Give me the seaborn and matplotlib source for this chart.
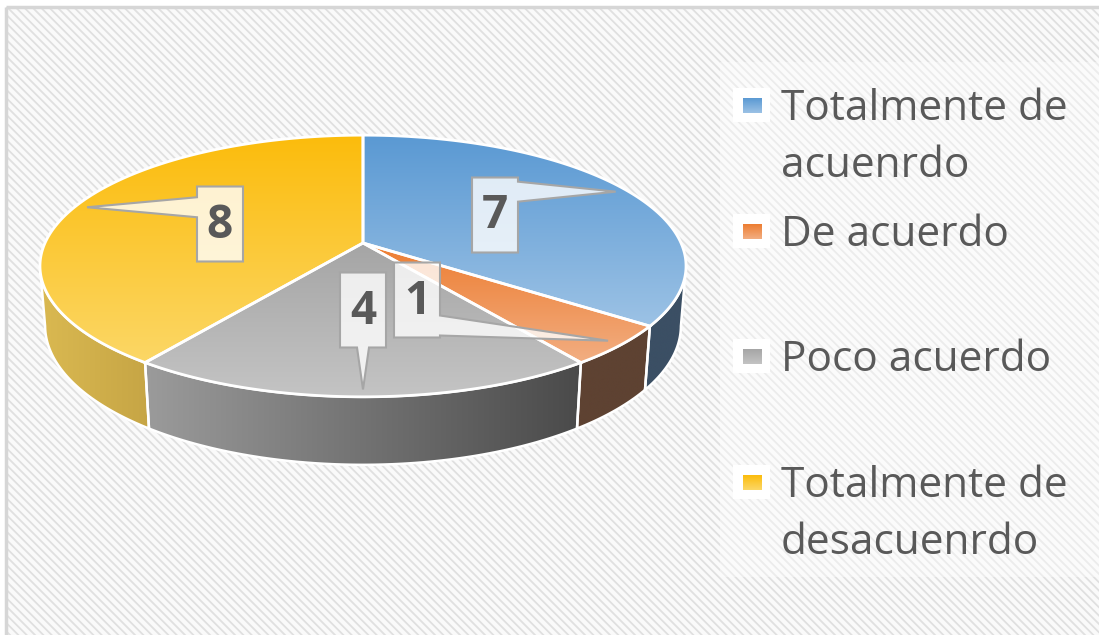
import textwrap
import numpy as np
import matplotlib
matplotlib.use("Agg")
import matplotlib.pyplot as plt
from matplotlib.patches import Polygon, Rectangle
from matplotlib.colors import to_rgb
import seaborn as sns

# data
categories = ["Totalmente de acuenrdo", "De acuerdo", "Poco acuerdo", "Totalmente de desacuenrdo"]
counts = [7, 1, 4, 8]

# colours (top face gradient, side gradient)
top_dark = sns.color_palette(["#5a99d3", "#ed7d31", "#a5a5a5", "#fbbc0c"])
top_light = sns.color_palette(["#9cc2e5", "#f2ae82", "#c4c4c4", "#fcd766"])
side_left = sns.color_palette(["#3b4f64", "#5e4232", "#9b9b9b", "#dab951"])
side_right = sns.color_palette(["#3b4f64", "#5e4232", "#4a4a4a", "#c6a545"])

sns.set_theme(style="white")
plt.rcParams["font.family"] = ["Open Sans", "DejaVu Sans"]
plt.rcParams["hatch.linewidth"] = 1.3

fig = plt.figure(figsize=(10.99, 6.35), dpi=100)
ax = fig.add_axes([0, 0, 1, 1])
ax.axis("off")

# perspective projection of the pie disc (pixel coords)
CX, CY = 363, 243
S = 1660
D = 5.22
PHI = np.radians(23.5)
H = 0.204


def project(theta, r=1.0, level=0.0):
    X = r * np.sin(theta)
    Z = r * np.cos(theta)
    Y = -level
    u = Y * np.cos(PHI) + Z * np.sin(PHI)
    w = D + Z * np.cos(PHI) - Y * np.sin(PHI)
    return np.column_stack([CX + S * X / w, CY - S * u / w])


def fill_gradient(pts, c0, c1, vertical=True, z=2, lw=2.0):
    pts = np.asarray(pts)
    poly = Polygon(pts, closed=True, facecolor="none", edgecolor="white", lw=lw, zorder=z + 0.1)
    ax.add_patch(poly)
    x0, y0 = pts.min(0)
    x1, y1 = pts.max(0)
    t = np.linspace(0, 1, 256)[:, None]
    grad = np.array(to_rgb(c0))[None, :] * (1 - t) + np.array(to_rgb(c1))[None, :] * t
    img = grad[:, None, :] if vertical else grad[None, :, :]
    im = ax.imshow(img, extent=(x0, x1, y1, y0), origin="upper", aspect="auto",
                   zorder=z, interpolation="bilinear")
    im.set_clip_path(poly)


# hatched background + frame (top and left only)
ax.add_patch(Rectangle((6, 7), 1100, 640, facecolor="#fafafa", edgecolor="#e0e0e0",
                       hatch="\\\\\\\\", linewidth=0, zorder=0))
ax.plot([6, 1099], [7, 7], color="#d6d6d6", lw=2.5, zorder=0.5, solid_capstyle="butt")
ax.plot([6, 6], [7, 635], color="#d6d6d6", lw=2.5, zorder=0.5, solid_capstyle="butt")
ax.add_patch(Rectangle((720, 62), 379, 515, facecolor="white", alpha=0.4, lw=0, zorder=0.6))

fracs = np.array(counts) / sum(counts)
edges = np.concatenate([[0], np.cumsum(fracs)]) * 2 * np.pi
vis_a = np.arccos(-np.cos(PHI) / D)
vis_b = 2 * np.pi - vis_a

# sides
for i in range(len(counts)):
    t0, t1 = max(edges[i], vis_a), min(edges[i + 1], vis_b)
    if t0 >= t1:
        continue
    th = np.linspace(t0, t1, 120)
    pts = np.vstack([project(th), project(th[::-1], level=H)])
    fill_gradient(pts, side_left[i], side_right[i], vertical=False, z=2, lw=1.8)

# top faces
for i in range(len(counts)):
    th = np.linspace(edges[i], edges[i + 1], 200)
    pts = np.vstack([[[CX, CY]], project(th)])
    fill_gradient(pts, top_dark[i], top_light[i], vertical=True, z=3, lw=2.0)

# data label callouts
label_centres = [(495, 215), (417, 300), (363, 310), (220, 224)]
BW, BH = 46, 75
for i, v in enumerate(counts):
    mid = (edges[i] + edges[i + 1]) / 2
    tx, ty = project(np.array([mid]), r=0.96)[0]
    cx, cy = label_centres[i]
    l, r, t, b = cx - BW / 2, cx + BW / 2, cy - BH / 2, cy + BH / 2
    if tx > r:
        yc = np.clip(ty, t + 12, b - 12)
        pts = [(l, t), (r, t), (r, yc - 10), (tx, ty), (r, yc + 10), (r, b), (l, b)]
    elif tx < l:
        yc = np.clip(ty, t + 12, b - 12)
        pts = [(l, t), (r, t), (r, b), (l, b), (l, yc + 10), (tx, ty), (l, yc - 10)]
    else:
        xc = np.clip(tx, l + 9, r - 9)
        pts = [(l, t), (r, t), (r, b), (xc + 6, b), (tx, ty), (xc - 6, b), (l, b)]
    ax.add_patch(Polygon(pts, closed=True, facecolor=(1, 1, 1, 0.8), edgecolor="#a6a6a6",
                         lw=1.5, zorder=6))
    ax.text(cx, cy + 1, str(v), ha="center", va="center", fontsize=33, fontweight="bold",
            color="#595959", zorder=7)

# legend
for i, cat in enumerate(categories):
    yb = 120 + i * 125.7
    ax.add_patch(Rectangle((733, yb - 32), 37, 34, facecolor="white", lw=0, zorder=5))
    sq = [(743, yb - 22), (762, yb - 22), (762, yb - 7), (743, yb - 7)]
    fill_gradient(sq, top_dark[i], top_light[i], vertical=True, z=5.5, lw=0)
    for j, line in enumerate(textwrap.wrap(cat, 13)):
        ax.text(781, yb + j * 57, line, fontsize=30.5, color="#595959", va="baseline",
                ha="left", zorder=6)

ax.set_xlim(0, 1099)
ax.set_ylim(635, 0)
fig.savefig("out.png", dpi=100, facecolor="white")
